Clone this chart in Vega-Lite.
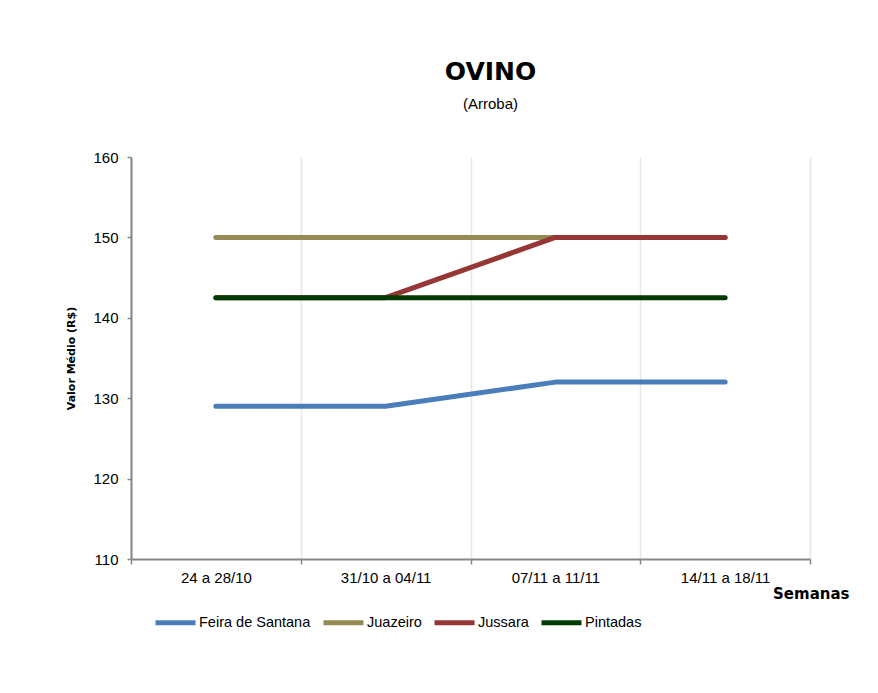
{
  "$schema": "https://vega.github.io/schema/vega-lite/v6.json",
  "autosize": {"type": "none"},
  "width": 679,
  "height": 402,
  "padding": {"left": 131, "top": 157, "right": 68, "bottom": 134},
  "background": "white",
  "title": {
    "text": "OVINO",
    "subtitle": "(Arroba)",
    "font": "DejaVu Sans",
    "fontSize": 25,
    "fontWeight": "bold",
    "color": "black",
    "subtitleFont": "Liberation Sans",
    "subtitleFontSize": 15,
    "subtitleColor": "black",
    "subtitlePadding": 12,
    "anchor": "middle",
    "dx": 20,
    "offset": 38
  },
  "data": {
    "values": [
      {"semana": "24 a 28/10", "cidade": "Feira de Santana", "valor": 129},
      {"semana": "31/10 a 04/11", "cidade": "Feira de Santana", "valor": 129},
      {"semana": "07/11 a 11/11", "cidade": "Feira de Santana", "valor": 132},
      {"semana": "14/11 a 18/11", "cidade": "Feira de Santana", "valor": 132},
      {"semana": "24 a 28/10", "cidade": "Juazeiro", "valor": 150},
      {"semana": "31/10 a 04/11", "cidade": "Juazeiro", "valor": 150},
      {"semana": "07/11 a 11/11", "cidade": "Juazeiro", "valor": 150},
      {"semana": "14/11 a 18/11", "cidade": "Juazeiro", "valor": 150},
      {"semana": "24 a 28/10", "cidade": "Jussara", "valor": 142.5},
      {"semana": "31/10 a 04/11", "cidade": "Jussara", "valor": 142.5},
      {"semana": "07/11 a 11/11", "cidade": "Jussara", "valor": 150},
      {"semana": "14/11 a 18/11", "cidade": "Jussara", "valor": 150},
      {"semana": "24 a 28/10", "cidade": "Pintadas", "valor": 142.5},
      {"semana": "31/10 a 04/11", "cidade": "Pintadas", "valor": 142.5},
      {"semana": "07/11 a 11/11", "cidade": "Pintadas", "valor": 142.5},
      {"semana": "14/11 a 18/11", "cidade": "Pintadas", "valor": 142.5}
    ]
  },
  "mark": {"type": "line", "strokeWidth": 5, "strokeCap": "round", "strokeJoin": "round"},
  "encoding": {
    "x": {
      "field": "semana",
      "type": "nominal",
      "sort": null,
      "bandPosition": 0.5,
      "scale": {"type": "band", "paddingInner": 0, "paddingOuter": 0},
      "axis": {
        "title": "Semanas",
        "titleFont": "DejaVu Sans",
        "titleFontSize": 15,
        "titleFontWeight": "bold",
        "titleColor": "black",
        "titleAnchor": "end",
        "titleAlign": "right",
        "titleX": 718,
        "titleY": 27,
        "labelAngle": 0,
        "labelFont": "Liberation Sans",
        "labelFontSize": 15,
        "labelColor": "black",
        "labelPadding": 6,
        "tickBand": "extent",
        "tickSize": 5,
        "tickColor": "#868686",
        "tickWidth": 1.5,
        "domainColor": "#868686",
        "domainWidth": 2,
        "grid": true,
        "gridColor": "#ebe7dc",
        "gridWidth": 1.5
      }
    },
    "y": {
      "field": "valor",
      "type": "quantitative",
      "scale": {"domain": [110, 160], "nice": false, "zero": false},
      "axis": {
        "title": "Valor Médio (R$)",
        "titleFont": "DejaVu Sans",
        "titleFontSize": 11,
        "titleFontWeight": "bold",
        "titleColor": "black",
        "titlePadding": 16,
        "values": [110, 120, 130, 140, 150, 160],
        "labelFont": "Liberation Sans",
        "labelFontSize": 15,
        "labelColor": "black",
        "labelPadding": 9,
        "tickSize": 4,
        "tickColor": "#868686",
        "tickWidth": 1.5,
        "domainColor": "#868686",
        "domainWidth": 2,
        "grid": false
      }
    },
    "color": {
      "field": "cidade",
      "type": "nominal",
      "scale": {
        "domain": ["Feira de Santana", "Juazeiro", "Jussara", "Pintadas"],
        "range": ["#4a7ebb", "#948a54", "#953735", "#023b02"]
      },
      "legend": {
        "title": null,
        "orient": "none",
        "direction": "horizontal",
        "legendX": 22,
        "legendY": 443,
        "padding": 0,
        "symbolType": "stroke",
        "symbolSize": 1600,
        "symbolStrokeWidth": 5,
        "labelFont": "Liberation Sans",
        "labelFontSize": 14.5,
        "labelColor": "black",
        "labelOffset": 1,
        "columnPadding": 2
      }
    }
  },
  "config": {
    "view": {"stroke": null}
  }
}
